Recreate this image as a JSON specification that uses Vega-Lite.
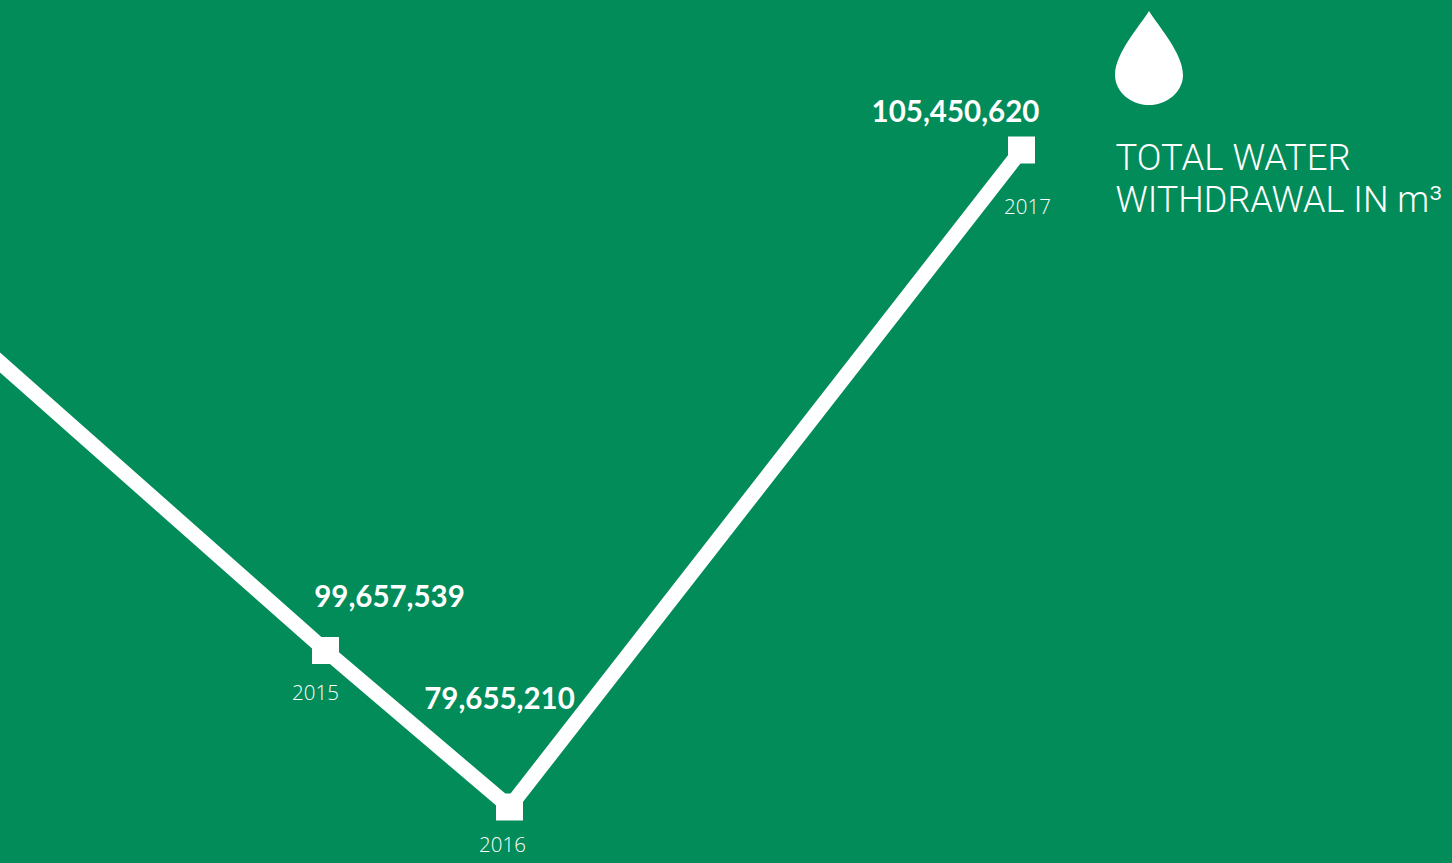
{"$schema":"https://vega.github.io/schema/vega-lite/v6.json","width":1452,"height":863,"padding":0,"autosize":{"type":"none"},"background":"#028C59","view":{"stroke":null},"data":{"values":[{"year":2014,"value":103297000},{"year":2015,"value":99657539,"label":"99,657,539"},{"year":2016,"value":79655210,"label":"79,655,210"},{"year":2017,"value":105450620,"label":"105,450,620"}]},"encoding":{"x":{"field":"year","type":"quantitative","axis":null,"scale":{"domain":[2014,2015,2016,2017],"range":[-30,325.5,509.5,1021.5]}},"y":{"field":"value","type":"quantitative","axis":null,"scale":{"domain":[79655210,99657539,105450620],"range":[807,650.5,150],"zero":false}}},"layer":[{"mark":{"type":"line","color":"#ffffff","strokeWidth":15,"clip":true}},{"transform":[{"filter":"datum.year>=2015"}],"mark":{"type":"point","shape":"square","filled":true,"color":"#ffffff","opacity":1,"size":729}},{"transform":[{"filter":"datum.year==2017"}],"mark":{"type":"point","filled":true,"color":"#ffffff","opacity":1,"size":8836,"xOffset":127.5,"yOffset":-92,"shape":"M0,-1 C0.2,-0.68 0.723,-0.1 0.723,0.36 C0.723,0.72 0.38,1 0,1 C-0.38,1 -0.723,0.72 -0.723,0.36 C-0.723,-0.1 -0.2,-0.68 0,-1 Z"}},{"transform":[{"filter":"datum.year==2015"}],"mark":{"type":"text","font":"Lato","fontWeight":"bold","fontSize":29.5,"color":"#ffffff","align":"center","baseline":"middle","dx":64,"dy":-53},"encoding":{"text":{"field":"label"}}},{"transform":[{"filter":"datum.year==2016"}],"mark":{"type":"text","font":"Lato","fontWeight":"bold","fontSize":29.5,"color":"#ffffff","align":"center","baseline":"middle","dx":-10,"dy":-107.5},"encoding":{"text":{"field":"label"}}},{"transform":[{"filter":"datum.year==2017"}],"mark":{"type":"text","font":"Lato","fontWeight":"bold","fontSize":29.5,"color":"#ffffff","align":"center","baseline":"middle","dx":-66,"dy":-37.5},"encoding":{"text":{"field":"label"}}},{"transform":[{"filter":"datum.year==2015"}],"mark":{"type":"text","font":"Open Sans","fontWeight":300,"fontSize":20.5,"color":"#ffffff","align":"center","baseline":"middle","dx":-10,"dy":43},"encoding":{"text":{"field":"year","type":"nominal"}}},{"transform":[{"filter":"datum.year==2016"}],"mark":{"type":"text","font":"Open Sans","fontWeight":300,"fontSize":20.5,"color":"#ffffff","align":"center","baseline":"middle","dx":-7,"dy":39},"encoding":{"text":{"field":"year","type":"nominal"}}},{"transform":[{"filter":"datum.year==2017"}],"mark":{"type":"text","font":"Open Sans","fontWeight":300,"fontSize":20.5,"color":"#ffffff","align":"center","baseline":"middle","dx":6,"dy":58},"encoding":{"text":{"field":"year","type":"nominal"}}},{"transform":[{"filter":"datum.year==2017"}],"mark":{"type":"text","font":"Roboto","fontWeight":300,"fontSize":36.5,"color":"#ffffff","align":"left","baseline":"middle","dx":94,"dy":9,"text":"TOTAL WATER"}},{"transform":[{"filter":"datum.year==2017"}],"mark":{"type":"text","font":"Roboto","fontWeight":300,"fontSize":36,"color":"#ffffff","align":"left","baseline":"middle","dx":94,"dy":51,"text":"WITHDRAWAL IN m³"}}]}
